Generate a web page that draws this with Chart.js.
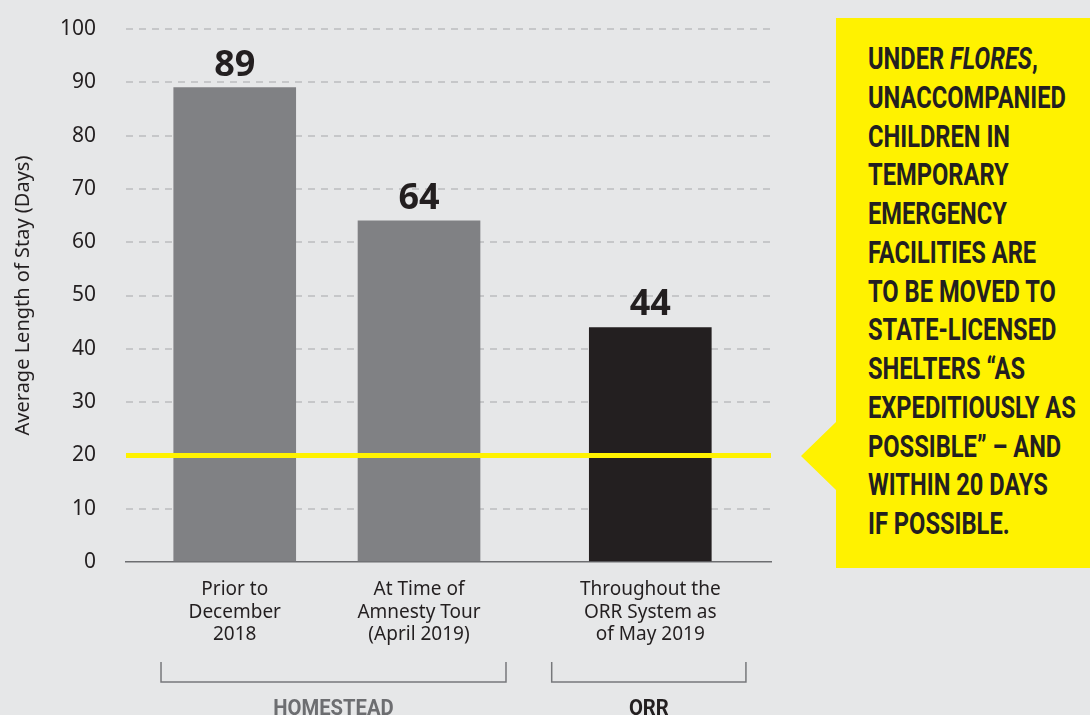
<!DOCTYPE html>
<html>
<head>
<meta charset="utf-8">
<script src="https://cdn.jsdelivr.net/npm/chart.js@4"></script>
<style>
  html, body { margin: 0; padding: 0; background: #e6e7e8; }
  #wrap { position: relative; width: 1090px; height: 715px; overflow: hidden; }
  #stayChart { position: absolute; left: 0; top: 0; }
  #callout {
    position: absolute; left: 0; top: 0; width: 1090px; height: 715px;
    background: #fff200;
    clip-path: polygon(801px 456px, 836px 422px, 836px 18px, 1090px 18px, 1090px 568px, 836px 568px, 836px 490px);
  }
  #calloutText {
    position: absolute; left: 868px; top: 39px;
    font: 700 32px/38.75px Roboto, sans-serif;
    color: #231f20; white-space: nowrap;
    transform: scaleX(0.74); transform-origin: left top;
  }
</style>
</head>
<body>
<div id="wrap">
  <div id="callout">
    <div id="calloutText">
      UNDER <i>FLORES</i>,<br>
      UNACCOMPANIED<br>
      CHILDREN IN<br>
      TEMPORARY<br>
      EMERGENCY<br>
      FACILITIES ARE<br>
      TO BE MOVED TO<br>
      STATE-LICENSED<br>
      SHELTERS “AS<br>
      EXPEDITIOUSLY AS<br>
      POSSIBLE” – AND<br>
      WITHIN 20 DAYS<br>
      IF POSSIBLE.
    </div>
  </div>
  <canvas id="stayChart" width="1090" height="715"></canvas>
</div>
<script>
// data
const categories = [
    ['Prior to', 'December', '2018'],
    ['At Time of', 'Amnesty Tour', '(April 2019)'],
    ['Throughout the', 'ORR System as', 'of May 2019']
];
const avgStay = [89, 64, 44];
const barGroup = ['HOMESTEAD', 'HOMESTEAD', 'ORR'];
const groups = ['HOMESTEAD', 'ORR'];
const yTicks = [0, 10, 20, 30, 40, 50, 60, 70, 80, 90, 100];
const floresLimit = 20;

// layout (x slots on a linear axis, the ORR bar sits a bit apart)
const slots = [0.59, 1.59, 2.845];
const bracketSpans = { HOMESTEAD: [0.19, 2.062], ORR: [2.31, 3.364] };
const groupColors = { HOMESTEAD: '#808184', ORR: '#231f20' };
const groupTextColors = { HOMESTEAD: '#6d6e71', ORR: '#231f20' };
const dark = '#231f20';

const extrasPlugin = {
    id: 'extras',
    afterDatasetsDraw(chart) {
        const { ctx, chartArea, scales: { x, y } } = chart;
        ctx.save();

        // Flores 20 day line
        const yl = y.getPixelForValue(floresLimit);
        ctx.strokeStyle = '#fff200';
        ctx.lineWidth = 5;
        ctx.beginPath();
        ctx.moveTo(chartArea.left, yl);
        ctx.lineTo(chartArea.right, yl);
        ctx.stroke();

        // value labels
        ctx.fillStyle = dark;
        ctx.font = 'bold 36px "Noto Sans"';
        ctx.textAlign = 'center';
        ctx.textBaseline = 'alphabetic';
        chart.getDatasetMeta(0).data.forEach((bar, i) => {
            ctx.fillText(String(avgStay[i]), bar.x, bar.y - 12);
        });

        // group brackets
        const top = chartArea.bottom + 100, bot = chartArea.bottom + 120;
        ctx.strokeStyle = '#77787b';
        ctx.lineWidth = 1.5;
        groups.forEach(g => {
            const x0 = x.getPixelForValue(bracketSpans[g][0]);
            const x1 = x.getPixelForValue(bracketSpans[g][1]);
            ctx.beginPath();
            ctx.moveTo(x0, top);
            ctx.lineTo(x0, bot);
            ctx.lineTo(x1, bot);
            ctx.lineTo(x1, top);
            ctx.stroke();

            ctx.save();
            ctx.translate((x0 + x1) / 2, 715);
            ctx.scale(0.92, 1);
            ctx.font = 'bold 22px Roboto';
            ctx.fillStyle = groupTextColors[g];
            ctx.fillText(g, 0, 0);
            ctx.restore();
        });

        ctx.restore();
    }
};

const ctx = document.getElementById('stayChart').getContext('2d');

const stayChart = new Chart(ctx, {
    type: 'bar',
    data: {
        datasets: [{
            data: avgStay.map((v, i) => ({ x: slots[i], y: v })),
            backgroundColor: barGroup.map(g => groupColors[g]),
            barThickness: 122,
            borderWidth: 0
        }]
    },
    options: {
        responsive: false,
        animation: false,
        devicePixelRatio: 1,
        layout: { padding: { left: 0, right: 319, top: 29, bottom: 0 } },
        plugins: {
            legend: { display: false },
            tooltip: { enabled: false }
        },
        scales: {
            x: {
                type: 'linear',
                min: 0,
                max: 3.5,
                offset: false,
                afterBuildTicks: s => { s.ticks = slots.map(v => ({ value: v })); },
                afterFit: s => { s.height = 153; },
                grid: { display: false, drawTicks: false, offset: false },
                border: { display: true, color: '#6d6e71', width: 1.5 },
                ticks: {
                    autoSkip: false,
                    maxRotation: 0,
                    padding: 16,
                    color: dark,
                    font: { family: 'Noto Sans', size: 19, lineHeight: 1.2 },
                    callback: (v, i) => categories[i]
                }
            },
            y: {
                min: 0,
                max: 100,
                afterBuildTicks: s => { s.ticks = yTicks.map(v => ({ value: v })); },
                afterFit: s => { s.width = 126; },
                grid: {
                    color: c => c.tick && c.tick.value === 0 ? 'rgba(0,0,0,0)' : '#c6c7c9',
                    lineWidth: 2,
                    drawTicks: true,
                    tickLength: 30,
                    tickColor: 'rgba(0,0,0,0)'
                },
                border: { display: false, dash: [7, 6] },
                ticks: {
                    padding: 0,
                    color: dark,
                    font: { family: 'Noto Sans', size: 21 }
                },
                title: {
                    display: true,
                    text: 'Average Length of Stay (Days)',
                    color: dark,
                    font: { family: 'Noto Sans', size: 20 },
                    padding: { top: 11, bottom: 0 }
                }
            }
        }
    },
    plugins: [extrasPlugin]
});
</script>
</body>
</html>
